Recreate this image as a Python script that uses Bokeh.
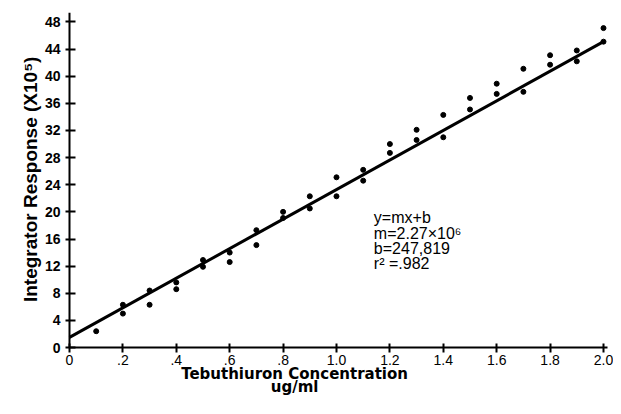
import math
from bokeh.plotting import figure
from bokeh.models import Label, FixedTicker, Range1d
from bokeh.embed import file_html
from bokeh.resources import INLINE

# ---- data ----
conc = [0.1,
        0.2, 0.2, 0.3, 0.3, 0.4, 0.4, 0.5, 0.5, 0.6, 0.6,
        0.7, 0.7, 0.8, 0.8, 0.9, 0.9, 1.0, 1.0, 1.1, 1.1,
        1.2, 1.2, 1.3, 1.3, 1.4, 1.4, 1.5, 1.5, 1.6, 1.6,
        1.7, 1.7, 1.8, 1.8, 1.9, 1.9, 2.0, 2.0]
response = [2.4,
            6.3, 5.0, 8.4, 6.3, 9.6, 8.6, 12.9, 11.9, 14.0, 12.6,
            17.3, 15.1, 20.0, 19.1, 22.3, 20.5, 25.1, 22.3, 26.2, 24.6,
            30.0, 28.7, 32.1, 30.6, 34.3, 31.0, 36.8, 35.1, 38.9, 37.4,
            41.1, 37.7, 43.1, 41.7, 43.8, 42.2, 47.1, 45.1]
fit_x = [0.0, 2.0]
fit_y = [1.5, 45.1]

x_ticks = [0, 0.2, 0.4, 0.6, 0.8, 1.0, 1.2, 1.4, 1.6, 1.8, 2.0]
x_tick_labels = ["0", ".2", ".4", ".6", ".8", "1.0", "1.2", "1.4", "1.6", "1.8", "2.0"]
y_ticks = [0, 4, 8, 12, 16, 20, 24, 28, 32, 36, 40, 44, 48]

eq_lines = ["y=mx+b", "m=2.27\u00d710\u2076", "b=247,819", "r\u00b2 =.982"]
x_title = "Tebuthiuron Concentration"
x_unit = "ug/ml"
y_title = "Integrator Response (X10\u2075)"

FONT = "Liberation Sans"
X_AXIS_END = 2.015
Y_TOP = 49.4

p = figure(width=613, height=398, output_backend="svg", toolbar_location=None,
           x_range=Range1d(-0.2584, 2.0375), y_range=Range1d(-7.52, Y_TOP),
           min_border_left=0, min_border_right=0, min_border_top=12,
           min_border_bottom=0)
p.grid.visible = False
p.outline_line_color = None
p.background_fill_color = "white"
p.border_fill_color = "white"

# axes (both drawn inside the frame, crossing at the origin)
for ax in (p.xaxis[0], p.yaxis[0]):
    ax.axis_line_width = 2
    ax.axis_line_color = "black"
    ax.major_tick_line_width = 2
    ax.major_tick_line_color = "black"
    ax.minor_tick_line_color = None
    ax.major_label_text_font = FONT
    ax.major_label_text_color = "black"

xa = p.xaxis[0]
xa.fixed_location = 0
xa.bounds = (0, X_AXIS_END)
xa.ticker = FixedTicker(ticks=x_ticks)
xa.major_label_overrides = dict(zip(x_ticks, x_tick_labels))
xa.major_tick_in = 4
xa.major_tick_out = 5
xa.major_label_standoff = 2
xa.major_label_text_font_size = "14px"

ya = p.yaxis[0]
ya.fixed_location = 0
ya.bounds = (0, Y_TOP)
ya.ticker = FixedTicker(ticks=y_ticks)
ya.major_tick_in = 6
ya.major_tick_out = 4
ya.major_label_standoff = 5
ya.major_label_text_font_size = "14px"
ya.major_label_text_font_style = "bold"

# marks
p.line(fit_x, fit_y, line_width=3, line_color="black")
p.scatter(conc, response, size=5, fill_color="black", line_color="black")

# y-axis title
p.add_layout(Label(x=-0.146, y=24.8, text=y_title, angle=math.pi / 2,
                   text_font=FONT, text_font_size="19px", text_font_style="bold",
                   text_align="center", text_baseline="middle", text_color="black"))

# equation block
eq_y = [19.1, 16.85, 14.6, 12.35]
for txt, yy in zip(eq_lines, eq_y):
    p.add_layout(Label(x=1.14, y=yy, text=txt, text_font=FONT, text_font_size="16px",
                       text_baseline="middle", text_align="left", text_color="black"))

# x-axis titles (off-centre, two lines)
p.add_layout(Label(x=0.843, y=-3.85, text=x_title, text_font="DejaVu Sans",
                   text_font_size="15px", text_font_style="bold", text_align="center",
                   text_baseline="middle", text_color="black"))
p.add_layout(Label(x=0.843, y=-5.85, text=x_unit, text_font="DejaVu Sans",
                   text_font_size="15px", text_font_style="bold", text_align="center",
                   text_baseline="middle", text_color="black"))

open("out.html", "w").write(file_html(p, INLINE))
